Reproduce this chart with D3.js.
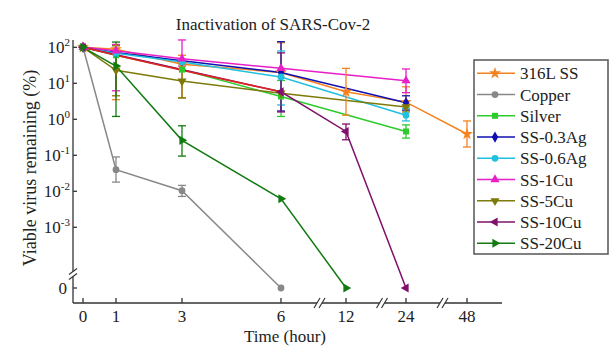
<!DOCTYPE html>
<html>
<head>
<meta charset="utf-8">
<script src="https://cdn.jsdelivr.net/npm/d3@7"></script>
<style>
  body { margin: 0; background: #fff; }
  text { font-family: "Liberation Serif", "DejaVu Serif", "Times New Roman", serif; fill: #222; }
</style>
</head>
<body>
<svg id="chart" width="615" height="353"></svg>
<script>
// time points (hours) and their tick labels
const times = [0, 1, 3, 6, 12, 24, 48];
const timeLabels = ["0", "1", "3", "6", "12", "24", "48"];
const decades = [-3, -2, -1, 0, 1, 2];

const seriesNames = ["316L SS", "Copper", "Silver", "SS-0.3Ag", "SS-0.6Ag", "SS-1Cu", "SS-5Cu", "SS-10Cu", "SS-20Cu"];

// viable virus remaining (%), one entry per time point, null = not measured
const ss316 = [100, 88, 34, 20, 5.8, 3.0, 0.39];
const copper = [100, 0.04, 0.0104, 0, null, null, null];
const silver = [100, 60, 24, 4.3, null, 0.46, null];
const ss03Ag = [100, 72, 42, 20, null, 2.9, null];
const ss06Ag = [100, 68, 39, 15, null, 1.3, null];
const ss1Cu = [100, 80, 48, 26, null, 11.8, null];
const ss5Cu = [100, 23, 11.5, 5.3, null, 2.2, null];
const ss10Cu = [100, null, null, 5.8, 0.46, 0, null];
const ss20Cu = [100, 30, 0.26, 0.0062, 0, null, null];
// early part of the SS-10Cu curve, drawn in red in the source figure
const ss10CuEarly = [100, 60, 23, 5.8, null, null, null];

// error bars [low, high], null = none
const ss316Err = [null, [3.5, 115], [4.0, 60], [null, 134], [1.3, 26], [2.0, 8], [0.17, 0.9]];
const copperErr = [null, [0.018, 0.09], [0.0072, 0.0146], null, null, null, null];
const silverErr = [null, null, null, [1.2, 12], null, [0.3, 0.7], null];
const ss03AgErr = [null, null, null, [1.7, 143], null, [1.8, 4.5], null];
const ss06AgErr = [null, null, null, [2.5, 79], null, [0.9, 2.0], null];
const ss1CuErr = [null, [6.2, 120], [30, 160], null, null, [5.5, 25], null];
const ss5CuErr = [null, [4.5, 110], [3.9, 35], null, null, [1.6, 3.2], null];
const ss10CuErr = [null, null, null, [1.6, 70], [0.27, 0.74], null, null];
const ss20CuErr = [null, [1.2, 140], [0.095, 0.66], null, null, null, null];

const colors = ["#f5821f", "#888888", "#2ccc2c", "#1010b0", "#20c0e0", "#e81ec8", "#7d7a0a", "#80106a", "#117a11"];
const symbols = [d3.symbolStar, d3.symbolCircle, d3.symbolSquare, d3.symbolDiamond, d3.symbolCircle,
  d3.symbolTriangle, d3.symbolTriangle, d3.symbolTriangle, d3.symbolTriangle];
const rotations = [0, 0, 0, 0, 0, 0, 180, -90, 90];

const values = [ss316, copper, silver, ss03Ag, ss06Ag, ss1Cu, ss5Cu, ss10Cu, ss20Cu];
const errors = [ss316Err, copperErr, silverErr, ss03AgErr, ss06AgErr, ss1CuErr, ss5CuErr, ss10CuErr, ss20CuErr];

const series = seriesNames.map((name, i) => ({
  name, color: colors[i], symbol: symbols[i], rot: rotations[i],
  points: times.map((t, j) => ({ t, v: values[i][j], err: errors[i][j] })).filter(p => p.v !== null)
}));

const svg = d3.select("#chart");

const axisLeft = 73, axisBottom = 303, axisTop = 40, axisRight = 502;

// broken time axis: 0-6 h linear, then equal steps
const x = d3.scaleLinear().domain(times).range([83, 116, 182, 281, 346, 406, 467]);
const yLog = d3.scaleLog().domain([1e-3, 1e2]).range([227.3, 47.3]);
const zeroY = 288;
const y = v => v === 0 ? zeroY : yLog(v);

// title and axis labels
svg.append("text").attr("x", 273).attr("y", 30).attr("text-anchor", "middle")
  .style("font-size", "17px").text("Inactivation of SARS-Cov-2");
svg.append("text").attr("x", 285).attr("y", 342).attr("text-anchor", "middle")
  .style("font-size", "17px").text("Time (hour)");
svg.append("text").attr("transform", "translate(36,168) rotate(-90)").attr("text-anchor", "middle")
  .style("font-size", "18px").text("Viable virus remaining (%)");

// axes
const axes = svg.append("g").attr("stroke", "#333").attr("stroke-width", 1.3);
axes.append("line").attr("x1", axisLeft).attr("x2", axisLeft).attr("y1", axisTop).attr("y2", axisBottom);
axes.append("line").attr("x1", axisLeft).attr("x2", axisRight).attr("y1", axisBottom).attr("y2", axisBottom);

axes.selectAll(".xt").data(times).join("line")
  .attr("x1", d => x(d)).attr("x2", d => x(d)).attr("y1", axisBottom).attr("y2", axisBottom - 5);
axes.selectAll(".yt").data(decades.map(d => Math.pow(10, d)).concat([0])).join("line")
  .attr("x1", axisLeft).attr("x2", axisLeft + 4).attr("y1", d => y(d)).attr("y2", d => y(d));

svg.selectAll(".xl").data(times).join("text")
  .attr("x", d => x(d)).attr("y", 322).attr("text-anchor", "middle")
  .style("font-size", "17px").text((d, i) => timeLabels[i]);

const yl = svg.selectAll(".yl").data(decades).join("text")
  .attr("x", 70).attr("y", d => yLog(Math.pow(10, d)) + 6).attr("text-anchor", "end")
  .style("font-size", "17px");
yl.append("tspan").text("10");
yl.append("tspan").attr("dy", -7).style("font-size", "11px").text(d => d);
svg.append("text").attr("x", 67).attr("y", zeroY + 6).attr("text-anchor", "end")
  .style("font-size", "17px").text("0");

// axis break marks
function breakMark(cx, cy, vertical) {
  const g = svg.append("g");
  if (vertical) {
    g.append("rect").attr("x", cx - 3).attr("y", cy - 2.5).attr("width", 6).attr("height", 5).attr("fill", "#fff");
    [-2.5, 2.5].forEach(o => g.append("line").attr("x1", cx - 4).attr("x2", cx + 4)
      .attr("y1", cy + o + 3).attr("y2", cy + o - 3).attr("stroke", "#333").attr("stroke-width", 1.2));
  } else {
    g.append("rect").attr("x", cx - 2.5).attr("y", cy - 3).attr("width", 5).attr("height", 6).attr("fill", "#fff");
    [-2.5, 2.5].forEach(o => g.append("line").attr("x1", cx + o - 3).attr("x2", cx + o + 3)
      .attr("y1", cy + 5).attr("y2", cy - 5).attr("stroke", "#333").attr("stroke-width", 1.2));
  }
}
breakMark(axisLeft, 274, true);
[[6, 12], [12, 24], [24, 48]].forEach(([a, b]) => breakMark((x(a) + x(b)) / 2 + 6, axisBottom, false));

// lines (unmeasured points are skipped, neighbours joined directly)
const line = d3.line().x(d => x(d.t)).y(d => y(d.v));

series.forEach(s => {
  svg.append("path").attr("d", line(s.points))
    .attr("fill", "none").attr("stroke", s.color).attr("stroke-width", 1.5);
});

svg.append("path")
  .attr("d", line(times.map((t, j) => ({ t, v: ss10CuEarly[j] })).filter(d => d.v !== null)))
  .attr("fill", "none").attr("stroke", "#e02424").attr("stroke-width", 1.5);

// error bars
series.forEach(s => {
  const g = svg.append("g").attr("stroke", s.color).attr("stroke-width", 1.3);
  s.points.filter(p => p.err).forEach(p => {
    const lo = p.err[0] === null ? p.v : p.err[0];
    const hi = p.err[1] === null ? p.v : p.err[1];
    const cx = x(p.t);
    g.append("line").attr("x1", cx).attr("x2", cx).attr("y1", y(lo)).attr("y2", y(hi));
    if (p.err[0] !== null) g.append("line").attr("x1", cx - 4).attr("x2", cx + 4).attr("y1", y(lo)).attr("y2", y(lo));
    if (p.err[1] !== null) g.append("line").attr("x1", cx - 4).attr("x2", cx + 4).attr("y1", y(hi)).attr("y2", y(hi));
  });
});

// markers
series.forEach(s => {
  svg.append("g").selectAll("path").data(s.points).join("path")
    .attr("d", d3.symbol().type(s.symbol).size(s.symbol === d3.symbolStar ? 45 : 36))
    .attr("transform", d => `translate(${x(d.t)},${y(d.v)}) rotate(${s.rot})`)
    .attr("fill", s.color);
});

// legend
const legend = svg.append("g");
legend.append("rect").attr("x", 474).attr("y", 60).attr("width", 134).attr("height", 194)
  .attr("fill", "#fff").attr("stroke", "#555").attr("stroke-width", 1.5);
const items = legend.selectAll(".li").data(series).join("g")
  .attr("transform", (d, i) => `translate(0,${73.3 + i * 21.25})`);
items.append("line").attr("x1", 477).attr("x2", 515).attr("stroke", d => d.color).attr("stroke-width", 1.5);
items.append("path")
  .attr("d", d => d3.symbol().type(d.symbol).size(d.symbol === d3.symbolStar ? 45 : 36)())
  .attr("transform", d => `translate(495,0) rotate(${d.rot})`)
  .attr("fill", d => d.color);
items.append("text").attr("x", 520).attr("y", 6).style("font-size", "17px").text(d => d.name);
</script>
</body>
</html>
